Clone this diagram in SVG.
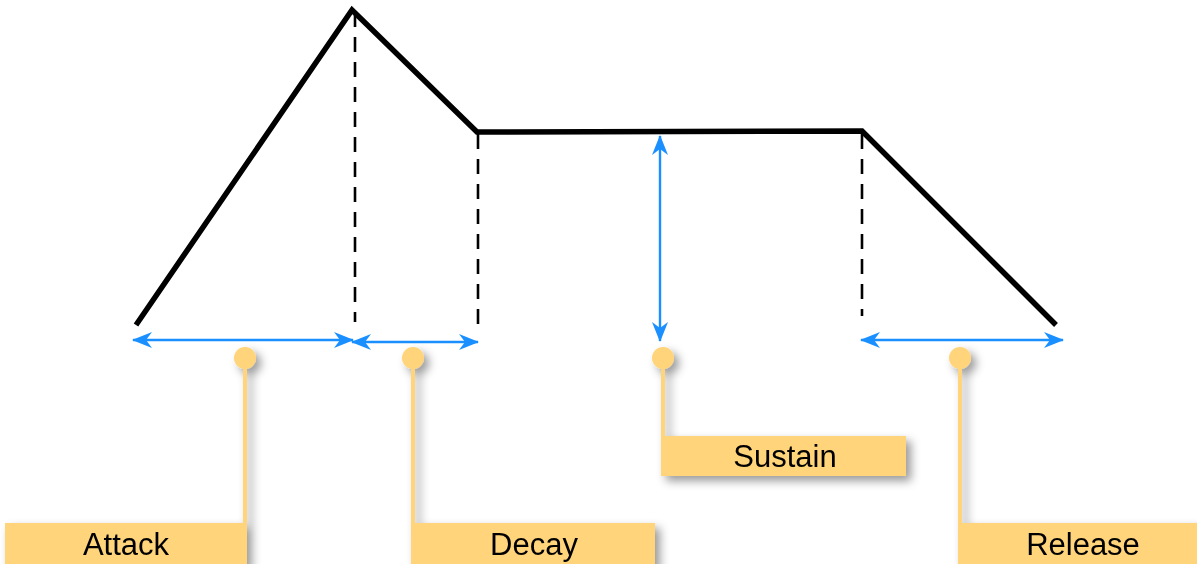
<svg xmlns="http://www.w3.org/2000/svg" width="1197" height="564" viewBox="0 0 1197 564">
<defs>
<style>
.env{fill:none;stroke:#000;stroke-width:5.5;stroke-linejoin:miter}
.dash{fill:none;stroke:#000;stroke-width:2.6;stroke-dasharray:15 10}
.arr{fill:none;stroke:#1a8fff;stroke-width:2.4;marker-start:url(#ah);marker-end:url(#ah)}
.lead{fill:none;stroke:#ffd47a;stroke-width:4}
.dot{fill:#ffd47a}
.box{fill:#ffd47a}
.lbl{font-family:"Liberation Sans",Arial,sans-serif;font-size:31px;fill:#000;text-anchor:middle}
</style>
<marker id="ah" viewBox="0 0 20 16" refX="19" refY="8" markerWidth="20" markerHeight="16" markerUnits="userSpaceOnUse" orient="auto-start-reverse">
<path d="M0,0 L20,8 L0,16 L6,8 Z" fill="#1a8fff"/>
</marker>
<filter id="sh" x="-30%" y="-30%" width="170%" height="170%">
<feDropShadow dx="5" dy="5" stdDeviation="5" flood-color="#000" flood-opacity="0.4"/>
</filter>
</defs>
<g id="envelope">
<polyline class="env" points="136,325 352,10 477,132 862,131 1056,325"/>
</g>
<g id="connectors">
<line class="dash" x1="355" y1="12" x2="355" y2="322"/>
<line class="dash" x1="478" y1="134" x2="478" y2="326"/>
<line class="dash" x1="862" y1="134" x2="862" y2="316"/>
<line class="arr" x1="133" y1="340" x2="353" y2="340"/>
<line class="arr" x1="352" y1="342" x2="478" y2="342"/>
<line class="arr" x1="660" y1="136" x2="660" y2="341"/>
<line class="arr" x1="861" y1="340" x2="1063" y2="340"/>
</g>
<g id="attack" filter="url(#sh)">
<circle class="dot" cx="245" cy="358" r="11"/>
<line class="lead" x1="245" y1="358" x2="245" y2="564"/>
<rect class="box" x="5" y="523" width="240" height="45"/>
<text class="lbl" x="126" y="555">Attack</text>
</g>
<g id="decay" filter="url(#sh)">
<circle class="dot" cx="413" cy="358" r="11"/>
<line class="lead" x1="413" y1="358" x2="413" y2="564"/>
<rect class="box" x="413" y="523" width="242" height="45"/>
<text class="lbl" x="534" y="555">Decay</text>
</g>
<g id="sustain" filter="url(#sh)">
<circle class="dot" cx="663" cy="358" r="11"/>
<line class="lead" x1="663" y1="358" x2="663" y2="476"/>
<rect class="box" x="663" y="436" width="243" height="40"/>
<text class="lbl" x="785" y="467">Sustain</text>
</g>
<g id="release" filter="url(#sh)">
<circle class="dot" cx="960" cy="358" r="11"/>
<line class="lead" x1="960" y1="358" x2="960" y2="564"/>
<rect class="box" x="960" y="523" width="240" height="45"/>
<text class="lbl" x="1083" y="555">Release</text>
</g>
</svg>
